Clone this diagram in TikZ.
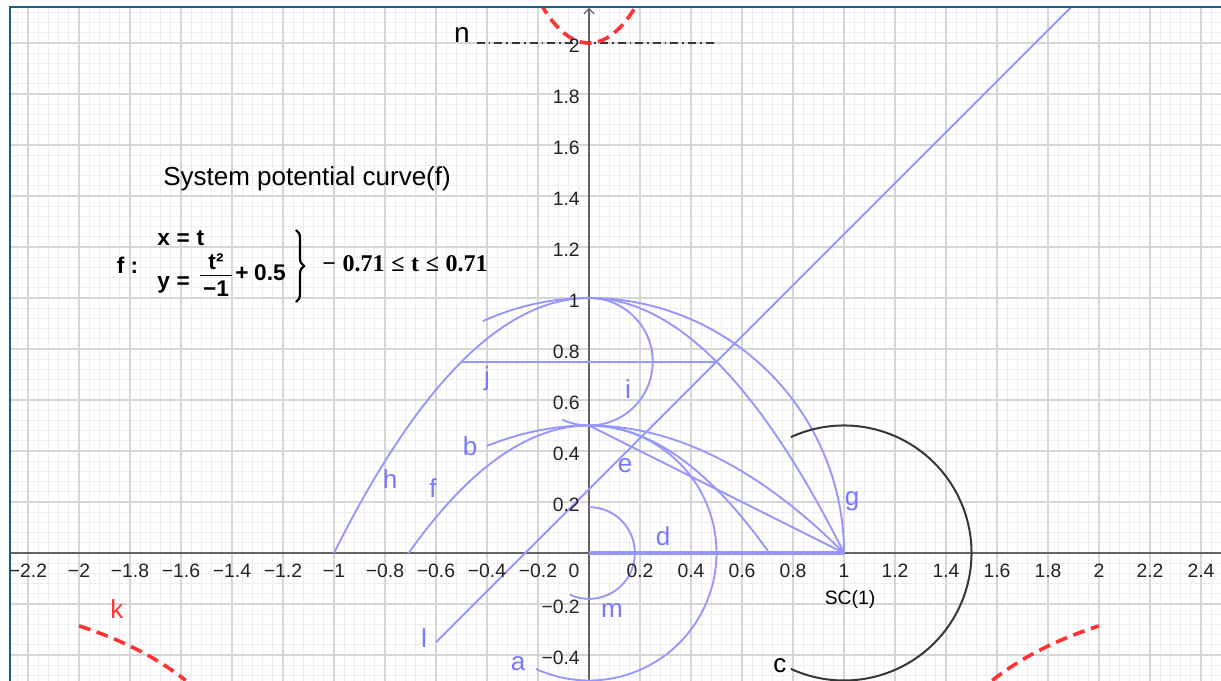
\RequirePackage{fix-cm}
\documentclass[tikz,border=0pt]{standalone}
\usepackage{amsmath}
\usepackage{fontspec}
\setmainfont{Liberation Sans}
\newfontfamily\serifb{Liberation Serif}
\usetikzlibrary{arrows.meta,decorations.pathreplacing}
\definecolor{gblue}{RGB}{150,150,255}
\definecolor{glabel}{RGB}{120,120,255}
\definecolor{gred}{RGB}{255,51,51}
\definecolor{gdark}{RGB}{55,55,55}
\definecolor{gframe}{RGB}{27,94,133}
\definecolor{gmajor}{RGB}{214,214,214}
\definecolor{gminor}{RGB}{238,238,238}
\definecolor{gaxis}{RGB}{100,100,100}
\definecolor{gtext}{RGB}{35,35,35}
\begin{document}
\begin{tikzpicture}[x=191.25pt,y=191.25pt,
  minorgrid/.style={draw=gminor,line width=0.75pt},
  majorgrid/.style={draw=gmajor,line width=1.1pt},
  axisline/.style={draw=gaxis,line width=0.9pt},
  curve/.style={draw=gblue,line width=1.4pt},
  thickseg/.style={draw=gblue,line width=2.8pt},
  darkcurve/.style={draw=gdark,line width=1.5pt},
  reddash/.style={draw=gred,line width=2.7pt,dash pattern=on 9pt off 5pt},
  dashdot/.style={draw=gdark,line width=0.8pt,dash pattern=on 6pt off 3pt on 1.2pt off 3pt},
  lab/.style={anchor=base,inner sep=0pt,font=\fontsize{19.5}{22}\selectfont,text=glabel},
  blab/.style={lab,text=black},
  rlab/.style={lab,text=gred},
  ticklab/.style={inner sep=0pt,font=\fontsize{14.5}{17}\selectfont,text=gtext},
  formula/.style={inner sep=0pt,font=\fontsize{17}{20}\selectfont\bfseries},
  rangefont/.style={inner sep=0pt,font=\serifb\fontsize{18}{21}\selectfont\bfseries},
  bracepen/.style={draw=black,line width=1.6pt,decorate,decoration={brace,amplitude=6pt}},
  framepen/.style={draw=gframe,line width=1.6pt}]
\useasboundingbox (-2.30980,-0.49804) rectangle (2.47843,2.16863);
\fill[white] (-2.30980,-0.49804) rectangle (2.47843,2.16863);
\begin{scope}
\clip (-2.2706,-0.49804) rectangle (2.47843,2.1412);
\draw[minorgrid,step=0.04] (-2.28,-0.52) grid (2.52,2.16);
\draw[majorgrid,step=0.2] (-2.4,-0.6) grid (2.6,2.2);
\draw[axisline] (-2.4,0) -- (2.6,0);
\draw[axisline,-{Straight Barb[length=3.75pt,width=7.5pt]}] (0,-0.6) -- (0,2.1373);
% curves
\draw[curve,domain=-1:1,samples=120] plot (\x,{1-\x*\x});
\draw[curve,domain=-0.4:1,samples=100] plot (\x,{0.5*(1-\x*\x)});
\draw[curve,domain=-0.71:0.71,samples=100] plot (\x,{0.5-\x*\x});
\draw[curve] (1,0) arc[start angle=0,end angle=114.59,radius=1];
\draw[curve] (0,0.5) arc[start angle=90,end angle=-114.59,radius=0.5];
\draw[curve] (0,1) arc[start angle=90,end angle=-114.59,radius=0.25];
\draw[curve] (0,0.18) arc[start angle=90,end angle=-114.59,radius=0.18];
\draw[darkcurve] (0.79193,0.45465) arc[start angle=114.59,end angle=-114.59,radius=0.5];
\draw[curve] (0,0.5) -- (1,0);
\draw[curve] (-0.5,0.75) -- (0.5,0.75);
\draw[curve] (-0.6,-0.35) -- (1.8912,2.1412);
\draw[thickseg] (0,0) -- (1,0);
\draw[dashdot] (-0.44,2) -- (0.5,2);
\draw[reddash,domain=-2:-1.5811,samples=60] plot (\x,{2/(1-2*\x*\x)});
\draw[reddash,domain=1.5811:2,samples=60] plot (\x,{2/(1-2*\x*\x)});
\draw[reddash,domain=-0.19:0.19,samples=60] plot (\x,{2/(1-2*\x*\x)});
\end{scope}
% frame
\draw[framepen] (-2.2706,-0.6) -- (-2.2706,2.1412) -- (2.6,2.1412);
% x tick labels
\foreach \v/\t [count=\n] in {-2.2/−2.2,-2/−2,-1.8/−1.8,-1.6/−1.6,-1.4/−1.4,-1.2/−1.2,-1/−1,-0.8/−0.8,-0.6/−0.6,-0.4/−0.4,-0.2/−0.2,0.2/0.2,0.4/0.4,0.6/0.6,0.8/0.8,1/1,1.2/1.2,1.4/1.4,1.6/1.6,1.8/1.8,2/2,2.2/2.2,2.4/2.4}
  \node[ticklab,anchor=base] (xt\n) at (\v,-0.0941) {\t};
\node[ticklab,anchor=base] (xzero) at (-0.0588,-0.0941) {0};
% y tick labels
\foreach \v/\t [count=\n] in {-0.4/−0.4,-0.2/−0.2,0.2/0.2,0.4/0.4,0.6/0.6,0.8/0.8,1/1,1.2/1.2,1.4/1.4,1.6/1.6,1.8/1.8,2/2}
  \node[ticklab,anchor=base east] (yt\n) at (-0.0353,\v-0.0373) {\t};
% title and formula
\node[anchor=base west,inner sep=0pt,font=\fontsize{19.5}{22}\selectfont] (title) at (-1.6706,1.4431) {System potential curve(f)};
\node[formula] (fcolon) at (-1.8098,1.1294) {f :};
\node[formula,anchor=base west] (fx) at (-1.6941,1.2078) {x\hspace{0.3em}=\hspace{0.3em}t};
\node[formula,anchor=base west] (fy) at (-1.6941,1.0392) {y\hspace{0.3em}=};
\node[formula] (ffrac) at (-1.4627,1.0784) {\begin{tabular}{@{\hspace{2pt}}c@{\hspace{2pt}}}t²\\[-2pt]\hline\rule{0pt}{16pt}−1\end{tabular}};
\node[formula,anchor=base west] (fplus) at (-1.3882,1.0667) {+\hspace{0.25em}0.5};
\coordinate (bracetop) at (-1.1490,1.2667);
\coordinate (bracebot) at (-1.1490,0.9843);
\draw[bracepen] (bracetop) -- (bracebot);
\node[rangefont,anchor=base west] (frange) at (-1.0471,1.1020) {−\hspace{5pt}0.71\hspace{5pt}≤\hspace{5pt}t\hspace{5pt}≤\hspace{5pt}0.71};
% curve labels
\node[lab] (lh) at (-0.7804,0.2510) {h};
\node[lab] (lf) at (-0.6118,0.2196) {f};
\node[lab] (lb) at (-0.4667,0.3843) {b};
\node[lab] (lj) at (-0.4,0.6588) {j};
\node[lab] (li) at (0.1529,0.6078) {i};
\node[lab] (le) at (0.1412,0.3176) {e};
\node[lab] (lg) at (1.0314,0.1882) {g};
\node[lab] (ld) at (0.2902,0.0275) {d};
\node[lab] (lm) at (0.0902,-0.2510) {m};
\node[lab] (la) at (-0.2784,-0.4627) {a};
\node[lab] (ll) at (-0.6471,-0.3686) {l};
\node[blab] (lc) at (0.7490,-0.4667) {c};
\node[rlab] (lk) at (-1.8510,-0.2549) {k};
\node[blab,font=\fontsize{21}{24}\selectfont] (ln) at (-0.4980,2.0039) {n};
\node[ticklab,anchor=base,text=black] (lsc) at (1.0235,-0.2039) {SC(1)};
\end{tikzpicture}
\end{document}
